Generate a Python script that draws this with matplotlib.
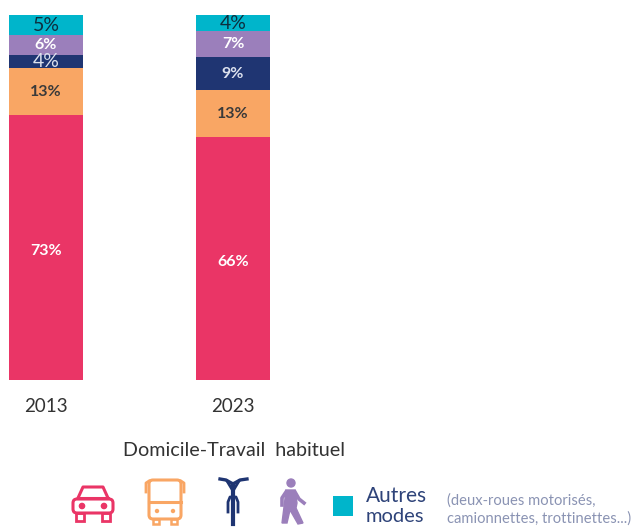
import matplotlib
matplotlib.use("Agg")
import matplotlib.pyplot as plt
from matplotlib.patches import Circle, FancyBboxPatch, Rectangle, Polygon
from matplotlib.lines import Line2D

W, H = 635, 527
years = ["2013", "2023"]
modes = ["Voiture", "Transports en commun", "Vélo", "Marche", "Autres modes"]
colors = ["#EA3566", "#F9A664", "#1F3572", "#9B7FBB", "#00B5CB"]
text_colors = ["white", "#3A3A3A", "#DDE2EE", "white", "#0D2F3F"]
heights_2013 = [72.6, 12.9, 3.6, 5.5, 5.4]
heights_2023 = [66.6, 12.9, 9.0, 7.1, 4.4]
labels_2013 = ["73%", "13%", "4%", "6%", "5%"]
labels_2023 = ["66%", "13%", "9%", "7%", "4%"]
title = "Domicile-Travail  habituel"

plt.rcParams["font.family"] = ["Lato", "DejaVu Sans"]
fig = plt.figure(figsize=(W / 100, H / 100), dpi=100, facecolor="white")

# Bars
ax = fig.add_axes([0, (H - 380) / H, 1, 365 / H])
for i, (hts, labs) in enumerate([(heights_2013, labels_2013), (heights_2023, labels_2023)]):
    bottom = 0
    for j, (h, lab) in enumerate(zip(hts, labs)):
        ax.bar(i, h, bottom=bottom, width=74 / 187, color=colors[j], linewidth=0)
        big = j == 4 or (i == 0 and j == 2)
        ax.text(i, bottom + h / 2 - (0.9 if j == 0 else 0.1 if j == 1 else 0.1),
                lab, ha="center", va="center", color=text_colors[j],
                fontweight="normal" if big else "bold", fontsize=14 if big else 11.5)
        bottom += h
ax.set_xlim(-46 / 187, (635 - 46) / 187)
ax.set_ylim(0, 100)
ax.set_xticks([0, 1], years)
ax.tick_params(axis="x", length=0, labelsize=13.5, labelcolor="#333333", pad=13)
ax.set_yticks([])
for s in ax.spines.values():
    s.set_visible(False)

# Legend layer in pixel coordinates
lg = fig.add_axes([0, 0, 1, 1], zorder=5)
lg.set_xlim(0, W)
lg.set_ylim(H, 0)
lg.axis("off")
lg.patch.set_alpha(0)

lg.text(234, 451, title, ha="center", va="center", fontsize=14.2, color="#333333")

# Car icon
c = colors[0]
lg.add_patch(FancyBboxPatch((73, 499), 40, 14, boxstyle="round,pad=0,rounding_size=4", fc="none", ec=c, lw=2.2))
lg.add_line(Line2D([78, 83, 103, 108], [498, 487, 487, 498], color=c, lw=2.2))
lg.add_line(Line2D([78, 108], [498, 498], color=c, lw=2.2))
lg.add_patch(Rectangle((76, 513), 8, 8, fc="none", ec=c, lw=2))
lg.add_patch(Rectangle((102, 513), 8, 8, fc="none", ec=c, lw=2))
lg.add_patch(Circle((82, 506), 2.6, fc=c, ec=c))
lg.add_patch(Circle((104, 506), 2.6, fc=c, ec=c))

# Bus icon
c = colors[1]
lg.add_patch(FancyBboxPatch((149, 480), 32, 39, boxstyle="round,pad=0,rounding_size=4", fc="none", ec=c, lw=2.2))
lg.add_line(Line2D([149, 181], [502, 502], color=c, lw=2.2))
lg.add_line(Line2D([146, 146, 149], [492, 483, 481], color=c, lw=2))
lg.add_line(Line2D([184, 184, 181], [492, 483, 481], color=c, lw=2))
lg.add_patch(Circle((157, 511), 1.5, fc=c, ec=c))
lg.add_patch(Circle((173, 511), 1.5, fc=c, ec=c))
lg.add_patch(Rectangle((153, 519), 6, 5, fc="none", ec=c, lw=1.8))
lg.add_patch(Rectangle((171, 519), 6, 5, fc="none", ec=c, lw=1.8))

# Bicycle icon
c = colors[2]
lg.add_line(Line2D([220, 226, 233, 240, 247], [479, 480, 484, 480, 479], color=c, lw=2.4))
lg.add_line(Line2D([227, 233, 239], [481, 491, 481], color=c, lw=2))
lg.add_line(Line2D([233, 233], [484, 524], color=c, lw=3))
lg.add_line(Line2D([228, 228, 230, 236, 238, 238], [512, 502, 497, 497, 502, 512], color=c, lw=2))

# Pedestrian icon
c = colors[3]
lg.add_patch(Circle((291, 483), 4, fc=c, ec=c))
lg.add_patch(Polygon([(286, 490), (295, 490), (297, 503), (296, 508), (303, 523), (298, 524),
                      (290, 510), (287, 523), (282, 523), (284, 507)], fc=c, ec=c))
lg.add_line(Line2D([295, 299, 304], [492, 499, 503], color=c, lw=2.6))
lg.add_line(Line2D([286, 282, 282], [492, 498, 505], color=c, lw=2.6))

# Other-modes legend entry
lg.add_patch(Rectangle((333, 496), 20, 20, fc=colors[4], ec="none"))
lg.text(366, 496, "Autres", ha="left", va="center", fontsize=15, color="#2E4379")
lg.text(366, 517, "modes", ha="left", va="center", fontsize=14.5, color="#2E4379")
lg.text(447, 501, "(deux-roues motorisés,", ha="left", va="center", fontsize=10.6, color="#8A93B3")
lg.text(447, 519, "camionnettes, trottinettes...)", ha="left", va="center", fontsize=10.6, color="#8A93B3")

fig.savefig("out.png", dpi=100, facecolor="white")
